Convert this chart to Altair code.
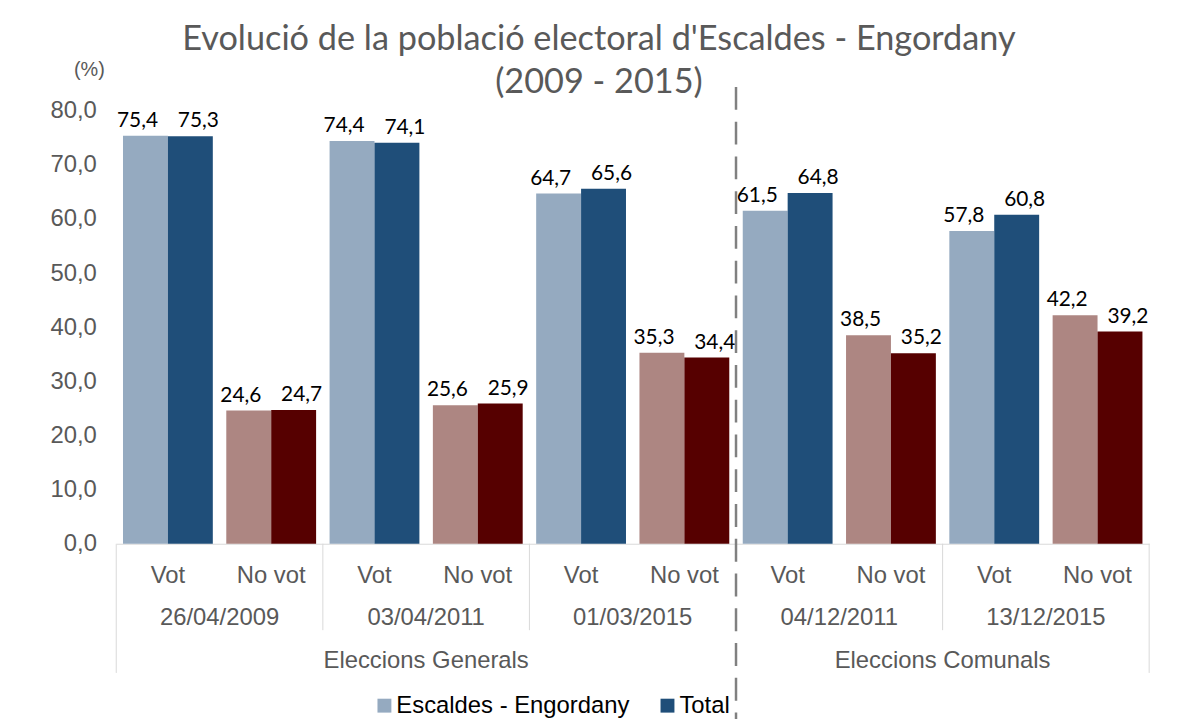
import altair as alt
import pandas as pd

# ---------------- data ----------------
dates = ["26/04/2009", "03/04/2011", "01/03/2015", "04/12/2011", "13/12/2015"]
election_names = ["Eleccions Generals", "Eleccions Comunals"]
vote_types = ["Vot", "No vot"]
series = ["Escaldes - Engordany", "Total"]
escaldes_vot = [75.4, 74.4, 64.7, 61.5, 57.8]
total_vot = [75.3, 74.1, 65.6, 64.8, 60.8]
escaldes_no_vot = [24.6, 25.6, 35.3, 38.5, 42.2]
total_no_vot = [24.7, 25.9, 34.4, 35.2, 39.2]
y_ticks = [0, 10, 20, 30, 40, 50, 60, 70, 80]

color_keys = ["Escaldes - Engordany", "Total", "Escaldes - Engordany (No vot)", "Total (No vot)"]
color_range = ["#95AAC0", "#1F4E79", "#AD8682", "#560000"]

keys = [f"{d}|{t}" for d in dates for t in vote_types]

rows = []
for i, d in enumerate(dates):
    vals = {
        ("Vot", series[0]): escaldes_vot[i],
        ("Vot", series[1]): total_vot[i],
        ("No vot", series[0]): escaldes_no_vot[i],
        ("No vot", series[1]): total_no_vot[i],
    }
    for t in vote_types:
        for s in series:
            v = vals[(t, s)]
            rows.append({
                "key": f"{d}|{t}",
                "sub": s,
                "ck": s if t == "Vot" else f"{s} (No vot)",
                "value": v,
                "label": f"{v:.1f}".replace(".", ","),
            })
df = pd.DataFrame(rows)

date_df = pd.DataFrame({"key": [f"{d}|Vot" for d in dates], "label": dates})
elec_df = pd.DataFrame({"key": [f"{dates[1]}|Vot", f"{dates[3]}|No vot"], "label": election_names})
short_sep = pd.DataFrame({"key": [f"{dates[1]}|Vot", f"{dates[2]}|Vot", f"{dates[4]}|Vot"]})
left_sep = pd.DataFrame({"key": [f"{dates[0]}|Vot"]})
right_sep = pd.DataFrame({"key": [f"{dates[4]}|No vot"]})
dash_sep = pd.DataFrame({"key": [f"{dates[3]}|Vot"]})
unit_df = pd.DataFrame({"label": ["(%)"]})

# ---------------- layout ----------------
W, H = 1040, 436
GREY = "#595959"
AXFONT = "Liberation Sans"
FS = 24

xscale = alt.Scale(domain=keys, paddingInner=0, paddingOuter=0)
xaxis = alt.Axis(
    title=None, labelExpr="slice(datum.label, 11)", labelAngle=0,
    ticks=False, tickSize=0, labelPadding=39, labelBaseline="alphabetic",
    labelFontSize=FS, labelFont=AXFONT, labelColor=GREY, labelOverlap=False,
    domainColor="#D9D9D9", domainWidth=1, grid=False)


def xenc(bp=None):
    if bp is None:
        return alt.X("key:N", scale=xscale, axis=xaxis)
    return alt.X("key:N", scale=xscale, axis=xaxis, bandPosition=bp)


xoff = alt.XOffset("sub:N", sort=series,
                   scale=alt.Scale(domain=series, paddingInner=0, paddingOuter=0.15))

bars = alt.Chart(df).mark_bar().encode(
    x=xenc(),
    xOffset=xoff,
    y=alt.Y("value:Q", scale=alt.Scale(domain=[0, 80], nice=False), axis=alt.Axis(
        values=y_ticks, labelExpr="replace(format(datum.value, '.1f'), '.', ',')",
        domain=False, ticks=False, grid=False, labelPadding=20,
        labelFontSize=FS, labelFont=AXFONT, labelColor=GREY, title=None)),
    color=alt.Color("ck:N", scale=alt.Scale(domain=color_keys, range=color_range),
                    legend=alt.Legend(values=series, title=None, orient="none",
                                      legendX=258, legendY=587, direction="horizontal",
                                      symbolType="square", symbolSize=196, symbolStrokeWidth=0,
                                      labelFontSize=FS, labelFont=AXFONT, labelColor="#000000",
                                      labelLimit=500, columnPadding=26, labelOffset=0)),
)


def bar_label_layer(s, shift):
    return alt.Chart(df).transform_filter(alt.datum.sub == s).mark_text(
        baseline="alphabetic", dy=-9, dx=shift, fontSize=21, font="Lato", color="#000000"
    ).encode(
        x=xenc(),
        xOffset=xoff,
        y=alt.Y("value:Q"),
        text="label:N",
    )


labels_a = bar_label_layer(series[0], -8)
labels_b = bar_label_layer(series[1], 8)

unit_label = alt.Chart(unit_df).mark_text(
    baseline="alphabetic", align="center", fontSize=20, font=AXFONT, color=GREY
).encode(x=alt.value(-27), y=alt.value(-35), text="label:N")

date_labels = alt.Chart(date_df).mark_text(
    baseline="alphabetic", fontSize=FS, font=AXFONT, color=GREY
).encode(x=xenc(1), y=alt.value(H + 82), text="label:N")

elec_labels = alt.Chart(elec_df).mark_text(
    baseline="alphabetic", fontSize=FS, font=AXFONT, color=GREY
).encode(x=xenc(1), y=alt.value(H + 125), text="label:N")

short_rules = alt.Chart(short_sep).mark_rule(color="#D9D9D9", strokeWidth=1).encode(
    x=xenc(0), y=alt.value(H), y2=alt.value(H + 87))
left_rule = alt.Chart(left_sep).mark_rule(color="#D9D9D9", strokeWidth=1).encode(
    x=xenc(0), y=alt.value(H), y2=alt.value(H + 130))
right_rule = alt.Chart(right_sep).mark_rule(color="#D9D9D9", strokeWidth=1).encode(
    x=xenc(1), y=alt.value(H), y2=alt.value(H + 130))
dash_rule = alt.Chart(dash_sep).mark_rule(color="#808080", strokeWidth=2.5, strokeDash=[23, 12]).encode(
    x=xenc(0), y=alt.value(-24), y2=alt.value(H + 180))

chart = alt.layer(
    short_rules, left_rule, right_rule, bars, labels_a, labels_b, unit_label,
    date_labels, elec_labels, dash_rule
).properties(
    width=W, height=H,
    background="white",
    autosize=alt.AutoSizeParams(type="none"),
    padding={"left": 109, "top": 101, "right": 27, "bottom": 174},
    title=alt.Title(
        text=["Evolució de la població electoral d'Escaldes - Engordany", "(2009 - 2015)"],
        fontSize=34.5, font="Lato", color=GREY, fontWeight="normal",
        anchor="middle", frame="group", dx=-34, dy=55, offset=14, lineHeight=44,
    ),
).configure_view(stroke="transparent", strokeWidth=0)

chart.save("out.html", embed_options={"renderer": "svg", "actions": False})
